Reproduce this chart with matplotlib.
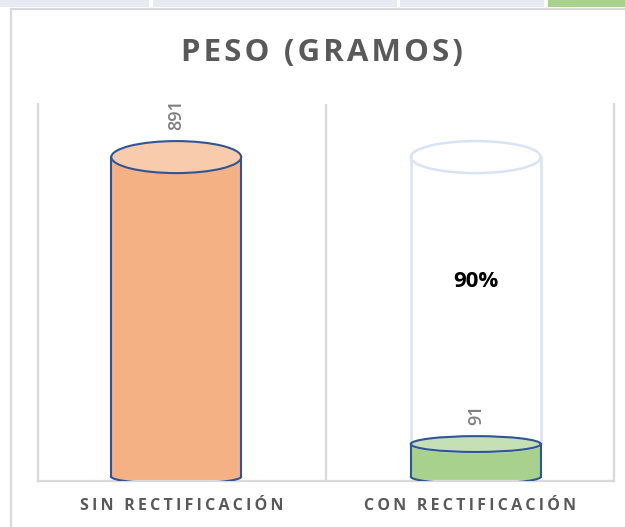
import numpy as np
import matplotlib.pyplot as plt
from matplotlib.patches import Ellipse, Polygon, Rectangle
from matplotlib.lines import Line2D

plt.rcParams['font.family'] = ['Open Sans', 'DejaVu Sans']

# data
categories = ["SIN RECTIFICACIÓN", "CON RECTIFICACIÓN"]
weights = [891, 91]
title = "PESO (GRAMOS)"

# styles
body_colors = ["#f4b183", "#a9d18e"]
top_colors = ["#f8cbad", "#c5e0b4"]
edge_color = "#2f5597"
ghost_color = "#dae3f3"
grid_color = "#d9d9d9"
text_gray = "#595959"
label_gray = "#7f7f7f"

W, H, DPI = 625, 527, 100
ylo, yhi = -12, 1039
spread = 1.04          # 3D perspective pushes the cylinders apart
bar_w = 0.451


def spaced(s, sep="\u200a"):
	return sep.join(s)


#####################################################################
fig = plt.figure(figsize=(W / DPI, H / DPI), dpi=DPI)
fig.patch.set_facecolor("white")

# sheet tabs along the top edge
for x0, x1, c in [(0, 149, "#e8eaf3"), (153, 397, "#e8eaf3"),
				  (400, 544, "#e8eaf3"), (548, 625, "#a9d18e")]:
	fig.add_artist(Rectangle((x0 / W, 1 - 7 / H), (x1 - x0) / W, 7 / H,
							 transform=fig.transFigure, color=c, lw=0))
# chart frame
fig.add_artist(Line2D([11 / W, 11 / W], [0, 1 - 9 / H], transform=fig.transFigure,
					  color=grid_color, lw=1.6))
fig.add_artist(Line2D([11 / W, 1], [1 - 9 / H, 1 - 9 / H], transform=fig.transFigure,
					  color=grid_color, lw=1.6))

ax_l, ax_r, ax_t, ax_b = 38, 614, 104, 481
ax = fig.add_axes([ax_l / W, 1 - ax_b / H, (ax_r - ax_l) / W, (ax_b - ax_t) / H])
ax.set_xlim(-0.5, 1.5)
ax.set_ylim(ylo, yhi)

px_per_unit = (ax_b - ax_t) / (yhi - ylo)


def half_h(v):
	# ellipse half height (data units), flatter near the floor
	return (7 + 9 * v / max(weights)) / px_per_unit


def lower_arc(xc, r, v, reverse=False):
	t = np.linspace(np.pi, 2 * np.pi, 60)
	if reverse:
		t = t[::-1]
	return np.column_stack([xc + r * np.cos(t), v + half_h(v) * np.sin(t)])


def cylinder(xc, v0, v1, body, top, edge, lw, fill=True):
	r = bar_w / 2
	if fill:
		pts = np.vstack([[[xc - r, v1]], lower_arc(xc, r, v0), [[xc + r, v1]],
						 lower_arc(xc, r, v1, reverse=True)])
		ax.add_patch(Polygon(pts, closed=True, facecolor=body, edgecolor="none", zorder=2))
	arc = lower_arc(xc, r, v0)
	ax.plot(arc[:, 0], arc[:, 1], color=edge, lw=lw, zorder=3, solid_capstyle="round")
	ax.plot([xc - r, xc - r], [v0, v1], color=edge, lw=lw, zorder=3)
	ax.plot([xc + r, xc + r], [v0, v1], color=edge, lw=lw, zorder=3)
	ax.add_patch(Ellipse((xc, v1), 2 * r, 2 * half_h(v1),
						 facecolor=top if fill else "none", edgecolor=edge, lw=lw, zorder=4))


xs = [0.5 + (i - 0.5) * spread for i in range(len(categories))]

# light outline showing the original weight behind the reduced one
cylinder(xs[1], weights[1], weights[0], None, None, ghost_color, 1.8, fill=False)

for i, v in enumerate(weights):
	cylinder(xs[i], 0, v, body_colors[i], top_colors[i], edge_color, 1.5)
	ax.annotate(str(v), (xs[i], v), xytext=(0, (7 + 9 * v / max(weights)) + 11),
				textcoords="offset pixels", rotation=90, ha="center", va="bottom",
				fontsize=13, fontweight="semibold", color=label_gray, zorder=5)

reduction = round(100 * (weights[0] - weights[1]) / weights[0])
ax.text(xs[1], 543, f"{reduction}%", ha="center", va="center",
		fontsize=16, fontweight="bold", color="black", zorder=5)

# frame and category divider
ax.spines["top"].set_visible(False)
for s in ["left", "right", "bottom"]:
	ax.spines[s].set_color(grid_color)
	ax.spines[s].set_linewidth(1.6)
ax.axvline(0.5, color=grid_color, lw=1.6, zorder=1)

ax.set_yticks([])
ax.set_xticks(range(len(categories)))
ax.set_xticklabels([spaced(c, "\u2009") for c in categories], fontsize=11.5,
				   fontweight="bold", color=text_gray)
ax.tick_params(axis="x", length=0, pad=12)

fig.text(322 / W, 1 - 53 / H, spaced(title, "\u200a"), ha="center", va="center",
		 fontsize=22.5, fontweight="bold", color=text_gray)

fig.savefig("out.png", dpi=DPI)
